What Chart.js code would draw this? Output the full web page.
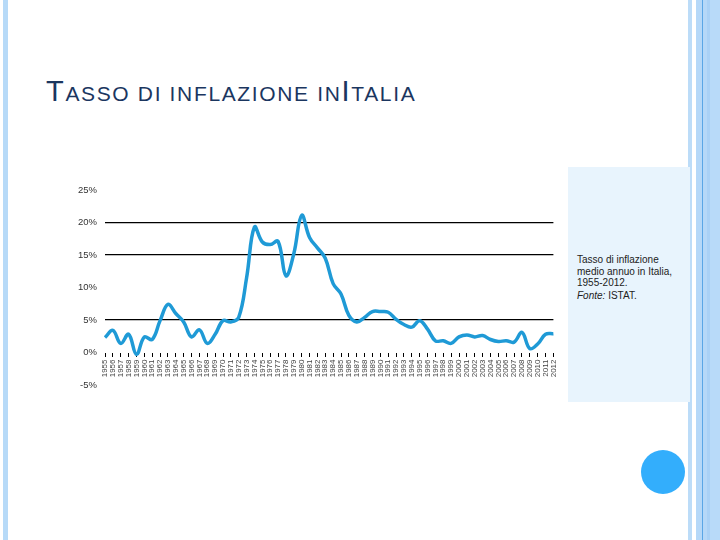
<!DOCTYPE html>
<html>
<head>
<meta charset="utf-8">
<script src="https://cdn.jsdelivr.net/npm/chart.js@4"></script>
<style>
  body { margin: 0; width: 720px; height: 540px; background: #fff; position: relative; overflow: hidden; font-family: "Liberation Sans", Arial, sans-serif; }
  .bar { position: absolute; top: 0; height: 540px; }
  #title { position: absolute; left: 46px; top: 75px; font-size: 21px; color: #1b365f; white-space: nowrap; letter-spacing: 1.65px; }
  #title .big { font-size: 29px; }
  #wrap { position: absolute; left: 70px; top: 175px; width: 496px; height: 225px; }
  #note { position: absolute; left: 568px; top: 167px; width: 122px; height: 235px; background: #e8f4fd; }
  #note p { margin: 0; position: absolute; left: 9px; font-size: 10px; line-height: 11.5px; color: #222; }
  #dot { position: absolute; left: 641px; top: 450px; width: 44px; height: 44px; border-radius: 50%; background: #33aefc; }
</style>
</head>
<body>
<div class="bar" style="left:3px;width:5px;background:#b7daf8"></div>
<div class="bar" style="left:688px;width:4px;background:#bcdcf8"></div>
<div class="bar" style="left:696px;width:6px;background:#b5d8f8"></div>
<div class="bar" style="left:702px;width:1px;background:#5aa6e6"></div>
<div class="bar" style="left:703px;width:4px;background:#b5d8f8"></div>
<div class="bar" style="left:707px;width:3px;background:#a9d1f6"></div>
<div class="bar" style="left:710px;width:10px;background:#b8daf9"></div>

<div id="title"><span class="big">T</span>ASSO DI INFLAZIONE IN<span class="big">I</span>TALIA</div>

<div id="wrap"><canvas id="myChart"></canvas></div>

<div id="note">
  <p style="top:87px">Tasso di inflazione<br>medio annuo in Italia,<br>1955-2012.</p>
  <p style="top:123px"><i>Fonte:</i> ISTAT.</p>
</div>
<div id="dot"></div>

<script>
// anni e tasso di inflazione (%)
var years = [];
for (var y = 1955; y <= 2012; y++) years.push(String(y));

var inflation = [
  2.3, 3.4, 1.4, 2.8, -0.3, 2.4, 2.0, 4.9, 7.4, 6.0,
  4.7, 2.4, 3.5, 1.4, 2.8, 4.9, 4.7, 5.4, 11.5, 19.3,
  17.0, 16.6, 17.1, 11.8, 15.2, 21.1, 17.7, 16.1, 14.5, 10.6,
  9.0, 5.7, 4.7, 5.4, 6.3, 6.3, 6.2, 5.1, 4.3, 3.9,
  4.9, 3.6, 1.8, 1.8, 1.4, 2.4, 2.7, 2.4, 2.6, 2.0,
  1.7, 1.8, 1.6, 3.1, 0.6, 1.3, 2.8, 2.9
];

var yTicks = [-5, 0, 5, 10, 15, 20, 25];
var gridValues = [5, 15, 20];

var ctx = document.getElementById("myChart");
var myChart = new Chart(ctx, {
  type: 'line',
  data: {
    labels: years,
    datasets: [{
      data: inflation,
      borderColor: "#1f9ad6",
      borderWidth: 3.5,
      fill: false,
      tension: 0.4,
      pointRadius: 0
    }]
  },
  options: {
    responsive: true,
    maintainAspectRatio: false,
    animation: false,
    layout: { padding: { top: 15, right: 2, bottom: 15, left: 0 } },
    plugins: { legend: { display: false }, tooltip: { enabled: false } },
    scales: {
      x: {
        position: { y: 0 },
        offset: false,
        border: { display: false },
        grid: { drawOnChartArea: false, drawTicks: true, tickLength: 4, color: '#000', lineWidth: 1 },
        ticks: {
          autoSkip: false, maxRotation: 90, minRotation: 90, padding: 3,
          color: '#444', font: { family: 'Liberation Sans', size: 8 }
        }
      },
      y: {
        min: -5, max: 25,
        afterFit: function (s) { s.width = 35; },
        afterBuildTicks: function (s) { s.ticks = yTicks.map(function (v) { return { value: v }; }); },
        border: { display: false },
        grid: {
          drawTicks: false,
          color: function (c) { return gridValues.indexOf(c.tick.value) >= 0 ? '#000' : 'rgba(0,0,0,0)'; },
          lineWidth: 1.2
        },
        ticks: {
          padding: 8, color: '#333', font: { family: 'Liberation Sans', size: 9.5 },
          callback: function (v) { return v + '%'; }
        }
      }
    }
  }
});
</script>
</body>
</html>
